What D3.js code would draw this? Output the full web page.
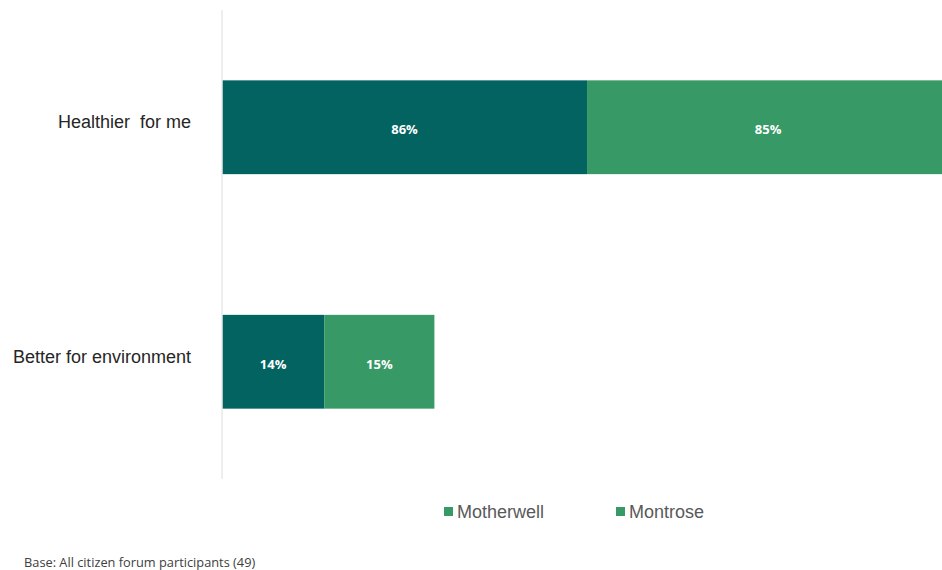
<!DOCTYPE html>
<html>
<head>
<meta charset="utf-8">
<script src="https://cdn.jsdelivr.net/npm/d3@7"></script>
<style>
  html, body { margin: 0; padding: 0; background: #ffffff; }
  svg { display: block; }
</style>
</head>
<body>
<svg id="chart" width="942" height="570"></svg>
<script>
// ---- data ----
const categories = ["Healthier  for me", "Better for environment"];
const seriesNames = ["Motherwell", "Montrose"];
// bar lengths (share of the axis width)
const motherwellValues = [50.7, 14.2];
const montroseValues = [50.3, 15.3];
// data labels shown on the bars
const motherwellLabels = ["86%", "14%"];
const montroseLabels = ["85%", "15%"];
const xDomain = [0, 100];
const footnote = "Base: All citizen forum participants (49)";

// ---- layout ----
const plotLeft = 222, plotRight = 942;
const colors = { Motherwell: "#036360", Montrose: "#369966" };
const legendMarkerColor = "#369966";

const svg = d3.select("#chart");

const x = d3.scaleLinear().domain(xDomain).range([plotLeft, plotRight]);
const y = d3.scaleBand().domain(categories).range([10, 479]).paddingInner(0.6).paddingOuter(0.3);

const rows = categories.map((c, i) => ({
  cat: c,
  segs: [
    { name: "Motherwell", x0: 0, x1: motherwellValues[i], label: motherwellLabels[i] },
    { name: "Montrose", x0: motherwellValues[i], x1: motherwellValues[i] + montroseValues[i], label: montroseLabels[i] }
  ]
}));

// bars
const g = svg.append("g");
rows.forEach(r => {
  r.segs.forEach(s => {
    g.append("rect")
      .attr("x", x(s.x0))
      .attr("y", y(r.cat))
      .attr("width", x(s.x1) - x(s.x0))
      .attr("height", y.bandwidth())
      .attr("fill", colors[s.name]);
    g.append("text")
      .attr("x", (x(s.x0) + x(s.x1)) / 2)
      .attr("y", y(r.cat) + y.bandwidth() / 2 + 7)
      .attr("text-anchor", "middle")
      .attr("font-family", "'Open Sans', 'Liberation Sans', sans-serif")
      .attr("font-weight", "bold")
      .attr("font-size", "13px")
      .attr("fill", "#ffffff")
      .text(s.label);
  });
});

// category axis (left)
const yAxis = d3.axisLeft(y).tickSize(0).tickPadding(31);
const ax = svg.append("g").attr("transform", `translate(${plotLeft},0)`).call(yAxis);
ax.select(".domain").remove();
ax.selectAll("text")
  .attr("font-family", "'Liberation Sans', Arial, sans-serif")
  .attr("font-size", "18px")
  .attr("letter-spacing", "0px")
  .attr("fill", "#262626")
  .attr("dy", "0.32em")
  .attr("y", -5)
  .style("white-space", "pre");

// vertical axis line
svg.append("line")
  .attr("x1", plotLeft).attr("x2", plotLeft)
  .attr("y1", 10).attr("y2", 479)
  .attr("stroke", "#e8e8e8")
  .attr("stroke-width", 1.5);

// legend
const legend = svg.append("g");
const legendX = [444, 616];
seriesNames.forEach((n, i) => {
  legend.append("rect")
    .attr("x", legendX[i]).attr("y", 507)
    .attr("width", 9).attr("height", 9)
    .attr("fill", legendMarkerColor);
  legend.append("text")
    .attr("x", legendX[i] + 13).attr("y", 518)
    .attr("font-family", "'Liberation Sans', Arial, sans-serif")
    .attr("font-size", "18px")
    .attr("fill", "#595959")
    .text(n);
});

// footnote
svg.append("text")
  .attr("x", 24).attr("y", 567)
  .attr("font-family", "'Open Sans', 'Liberation Sans', sans-serif")
  .attr("font-size", "12.8px")
  .attr("fill", "#404040")
  .text(footnote);
</script>
</body>
</html>
